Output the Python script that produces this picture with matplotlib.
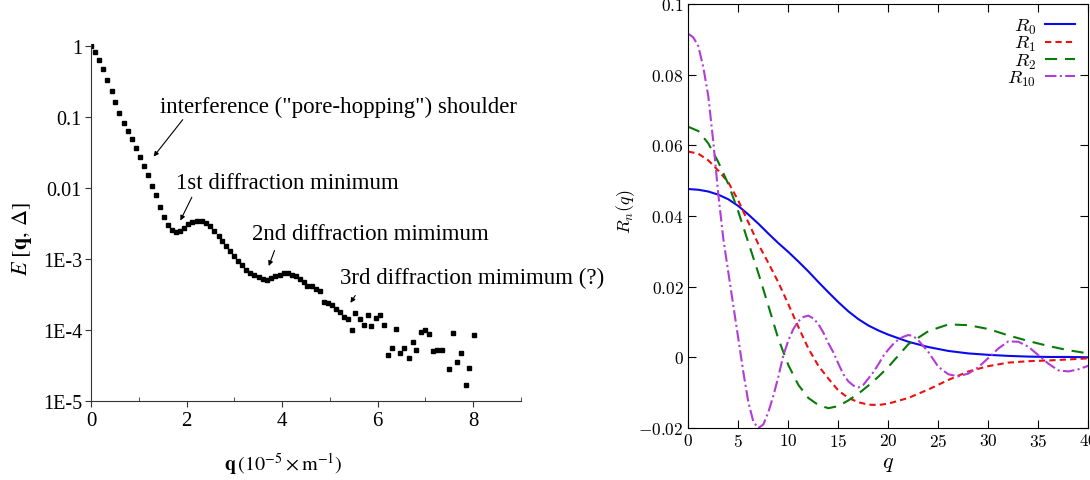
import matplotlib
matplotlib.use("Agg")
import matplotlib.pyplot as plt
from matplotlib.ticker import FuncFormatter, NullLocator

# ---- left panel: measured echo attenuation E[q, Delta] ----
q_exp = [0.00, 0.08, 0.17, 0.26, 0.34, 0.43, 0.51, 0.59, 0.68, 0.77, 0.85, 0.94,
         1.02, 1.10, 1.19, 1.28, 1.36, 1.45, 1.53, 1.61, 1.69, 1.77,
         1.86, 1.94, 2.03, 2.11, 2.22, 2.32, 2.41, 2.49, 2.58, 2.67, 2.75, 2.83,
         2.91, 3.00, 3.08, 3.16, 3.24, 3.32, 3.42, 3.51, 3.60, 3.68,
         3.77, 3.86, 3.95, 4.03, 4.12, 4.21, 4.29, 4.37, 4.45, 4.52, 4.63, 4.70,
         4.79, 4.87, 4.97, 5.05, 5.12, 5.21, 5.29, 5.37,
         5.47, 5.53, 5.62, 5.71, 5.79, 5.87, 5.96, 6.04, 6.13, 6.21, 6.30, 6.39,
         6.46, 6.56, 6.65, 6.74, 6.81, 6.90, 6.98, 7.08, 7.16, 7.25, 7.34, 7.50,
         7.58, 7.67, 7.75, 7.84, 7.92, 8.01]
e_exp = [1.0, 0.84, 0.65, 0.48, 0.34, 0.235, 0.164, 0.115, 0.083, 0.063, 0.049, 0.037,
         0.0279, 0.0204, 0.0151, 0.0109, 0.0079, 0.0055, 0.0039, 0.0030, 0.0026, 0.00243,
         0.00248, 0.00272, 0.0031, 0.0033, 0.00343, 0.0034, 0.00323, 0.0029, 0.0025,
         0.00214, 0.00182, 0.00155, 0.00132, 0.00112, 0.00095, 0.00083, 0.00071, 0.00064,
         0.00059, 0.00056, 0.00053, 0.00050,
         0.00054, 0.00057, 0.00060, 0.00063, 0.00063, 0.00060, 0.00057, 0.00053, 0.00048,
         0.00042, 0.00042, 0.00038, 0.00035, 0.00025, 0.00024, 0.000223, 0.0002, 0.000178,
         0.000152, 0.000141,
         9.9e-5, 1.75e-4, 1.45e-4, 1.19e-4, 1.64e-4, 1.15e-4, 1.49e-4, 1.61e-4, 1.19e-4,
         4.5e-5, 5.5e-5, 1.02e-4, 4.8e-5, 5.6e-5, 4.1e-5, 6.9e-5, 5.3e-5, 9.3e-5, 9.9e-5,
         8.9e-5, 5.0e-5, 5.3e-5, 5.3e-5, 2.85e-5, 9.1e-5, 3.55e-5, 4.8e-5, 1.66e-5,
         2.9e-5, 8.4e-5]

ytick_vals = [1, 0.1, 0.01, 1e-3, 1e-4, 1e-5]
ytick_txt = ["1", "0.1", "0.01", "1E-3", "1E-4", "1E-5"]

note_txt = ['interference ("pore-hopping") shoulder',
            "1st diffraction minimum",
            "2nd diffraction mimimum",
            "3rd diffraction mimimum (?)"]

# ---- right panel: R_n(q) ----
q_r = [0, 1, 2, 3, 4, 5, 6, 7, 8, 9, 10, 11, 12, 13, 14, 15, 16, 17, 18, 19, 20,
       22, 24, 26, 28, 30, 32, 34, 36, 38, 40]
r0 = [0.0476, 0.0474, 0.0469, 0.0460, 0.0447, 0.0428, 0.0404, 0.0378, 0.0350, 0.0323,
      0.0298, 0.0271, 0.0243, 0.0213, 0.0184, 0.0156, 0.0130, 0.0108, 0.0090, 0.0076,
      0.0064, 0.0044, 0.0029, 0.0018, 0.0011, 0.0007, 0.0004, 0.0002, 0.0001, 0.0001, 0.0]
r1 = [0.0582, 0.0576, 0.0557, 0.0528, 0.0495, 0.0443, 0.0382, 0.0320, 0.0267, 0.0212,
      0.0150, 0.0086, 0.0025, -0.0024, -0.0060, -0.0094, -0.0115, -0.0127, -0.0134,
      -0.0135, -0.0131, -0.0115, -0.0091, -0.0064, -0.0040, -0.0025, -0.0015, -0.0011,
      -0.0009, -0.0006, -0.0003]
r2 = [0.0652, 0.0640, 0.0605, 0.0552, 0.0490, 0.0412, 0.0325, 0.0238, 0.0146, 0.0052,
      -0.0022, -0.0078, -0.0115, -0.0135, -0.0144, -0.0138, -0.0122, -0.0103, -0.0080,
      -0.0055, -0.0027, 0.0037, 0.0074, 0.0093, 0.0091, 0.0080, 0.0062, 0.0046, 0.0032,
      0.0020, 0.0011]
q_r10 = [0, 0.5, 1, 1.5, 2, 2.5, 3, 3.5, 4, 4.5, 5, 5.5, 6, 6.5, 7, 7.5, 8, 8.5, 9, 9.5,
         10, 10.5, 11, 11.5, 12, 12.5, 13, 13.5, 14, 14.5, 15, 15.5, 16, 16.5, 17, 17.5,
         18, 18.5, 19, 19.5, 20, 20.5, 21, 21.5, 22, 22.5, 23, 24, 25, 26, 27, 28, 29,
         30, 31, 32, 33, 34, 35, 36, 37, 38, 39, 40]
r10 = [0.0915, 0.0905, 0.0880, 0.0820, 0.0738, 0.0608, 0.0460, 0.0335, 0.0240, 0.0146,
       0.0052, -0.0042, -0.0127, -0.0182, -0.0200, -0.0190, -0.0155, -0.0109, -0.0055,
       0.0005, 0.0048, 0.0080, 0.0102, 0.0114, 0.0118, 0.0110, 0.0094, 0.0070, 0.0040,
       0.0014, -0.0018, -0.0048, -0.0068, -0.0080, -0.0085, -0.0078, -0.0060, -0.0042,
       -0.0020, 0.0004, 0.0022, 0.0038, 0.0050, 0.0058, 0.0063, 0.0060, 0.0048, 0.0015,
       -0.0027, -0.0048, -0.0054, -0.0046, -0.0028, -0.0002, 0.0025, 0.0045, 0.0044,
       0.0030, 0.0006, -0.0018, -0.0037, -0.0040, -0.0034, -0.0024]

plt.rcParams["font.family"] = ["Liberation Serif", "DejaVu Serif"]
plt.rcParams["mathtext.fontset"] = "cm"

fig = plt.figure(figsize=(10.9, 4.81), dpi=100)

# left
ax = fig.add_axes([0.0835, 0.1642, 0.3945, 0.7422])
ax.plot(q_exp, e_exp, ls="none", marker="s", ms=3.4, color="black")
ax.set_yscale("log")
ax.set_xlim(0, 9)
ax.set_ylim(1e-5, 1.077)
ax.set_yticks(ytick_vals)
ax.set_yticklabels(ytick_txt)
ax.yaxis.set_minor_locator(NullLocator())
ax.set_xticks([0, 2, 4, 6, 8])
ax.set_xticks([1, 3, 5, 7, 9], minor=True)
for s in ("top", "right"):
    ax.spines[s].set_visible(False)
for s in ("left", "bottom"):
    ax.spines[s].set_color("#333333")
ax.tick_params(axis="y", which="major", direction="out", length=4.5, pad=2,
               labelsize=14.5, color="#333333")
ax.tick_params(axis="x", which="major", direction="out", length=4, labelsize=15, color="#333333")
ax.tick_params(axis="x", which="minor", direction="in", length=3, color="#333333")

arrow = dict(arrowstyle="-|>", lw=0.8, color="black", mutation_scale=7, shrinkA=0, shrinkB=0)
ax.annotate("", xy=(1.31, 0.0279), xytext=(1.92, 0.0925), arrowprops=arrow)
ax.annotate("", xy=(1.87, 0.0035), xytext=(2.11, 0.00746), arrowprops=arrow)
ax.annotate("", xy=(3.72, 0.0008), xytext=(3.84, 0.00132), arrowprops=arrow)
ax.annotate("", xy=(5.43, 2.42e-4), xytext=(5.53, 3.07e-4), arrowprops=arrow)
ax.text(1.45, 0.144, note_txt[0], fontsize=16.5, va="center", clip_on=False)
ax.text(1.78, 0.0122, note_txt[1], fontsize=16.5, va="center", clip_on=False)
ax.text(3.37, 0.00227, note_txt[2], fontsize=16.5, va="center", clip_on=False)
ax.text(5.22, 5.57e-4, note_txt[3], fontsize=16.5, va="center", clip_on=False)

fig.text(283 / 1090, 1 - 465 / 481, r"$\mathbf{q}\,(10^{-5}\times\mathrm{m}^{-1})$",
         ha="center", va="center", fontsize=14.5, math_fontfamily="stix")
fig.text(21.5 / 1090, 1 - 239 / 481, r"$E\ [\mathbf{q},\,\Delta]$", rotation=90,
         ha="center", va="center", fontsize=16, math_fontfamily="stix")

# right
bx = fig.add_axes([0.6315, 0.1081, 0.367, 0.8819])
bx.plot(q_r, r0, color="#0a0aee", lw=1.5, label=r"$R_0$")
bx.plot(q_r, r1, color="#ee1010", lw=1.5, dashes=(3, 2), label=r"$R_1$")
bx.plot(q_r, r2, color="#087a08", lw=1.5, dashes=(5.8, 3.8), label=r"$R_2$")
bx.plot(q_r10, r10, color="#b23cd6", lw=1.5, dashes=(5.5, 1.6, 1, 1.6), label=r"$R_{10}$")
bx.set_xlim(0, 40)
bx.set_ylim(-0.02, 0.1)
bx.set_xticks(range(0, 41, 5))
bx.set_yticks([-0.02, 0, 0.02, 0.04, 0.06, 0.08, 0.1])
bx.xaxis.set_major_formatter(FuncFormatter(lambda v, p: f"${v:g}$"))
bx.yaxis.set_major_formatter(FuncFormatter(lambda v, p: f"${v:g}$"))
bx.tick_params(direction="in", length=5.5, top=True, right=True, labelsize=12.5)
bx.legend(loc="upper right", frameon=False, markerfirst=False, fontsize=13.5,
          handlelength=1.6, labelspacing=-0.1, handletextpad=0.5,
          borderaxespad=0.3)
fig.text(626 / 1090, 1 - 212 / 481, r"$R_n(q)$", rotation=90, ha="center", va="center",
         fontsize=13)
fig.text(888 / 1090, 1 - 465 / 481, r"$q$", ha="center", va="center", fontsize=16)

fig.savefig("out.png", dpi=100)
